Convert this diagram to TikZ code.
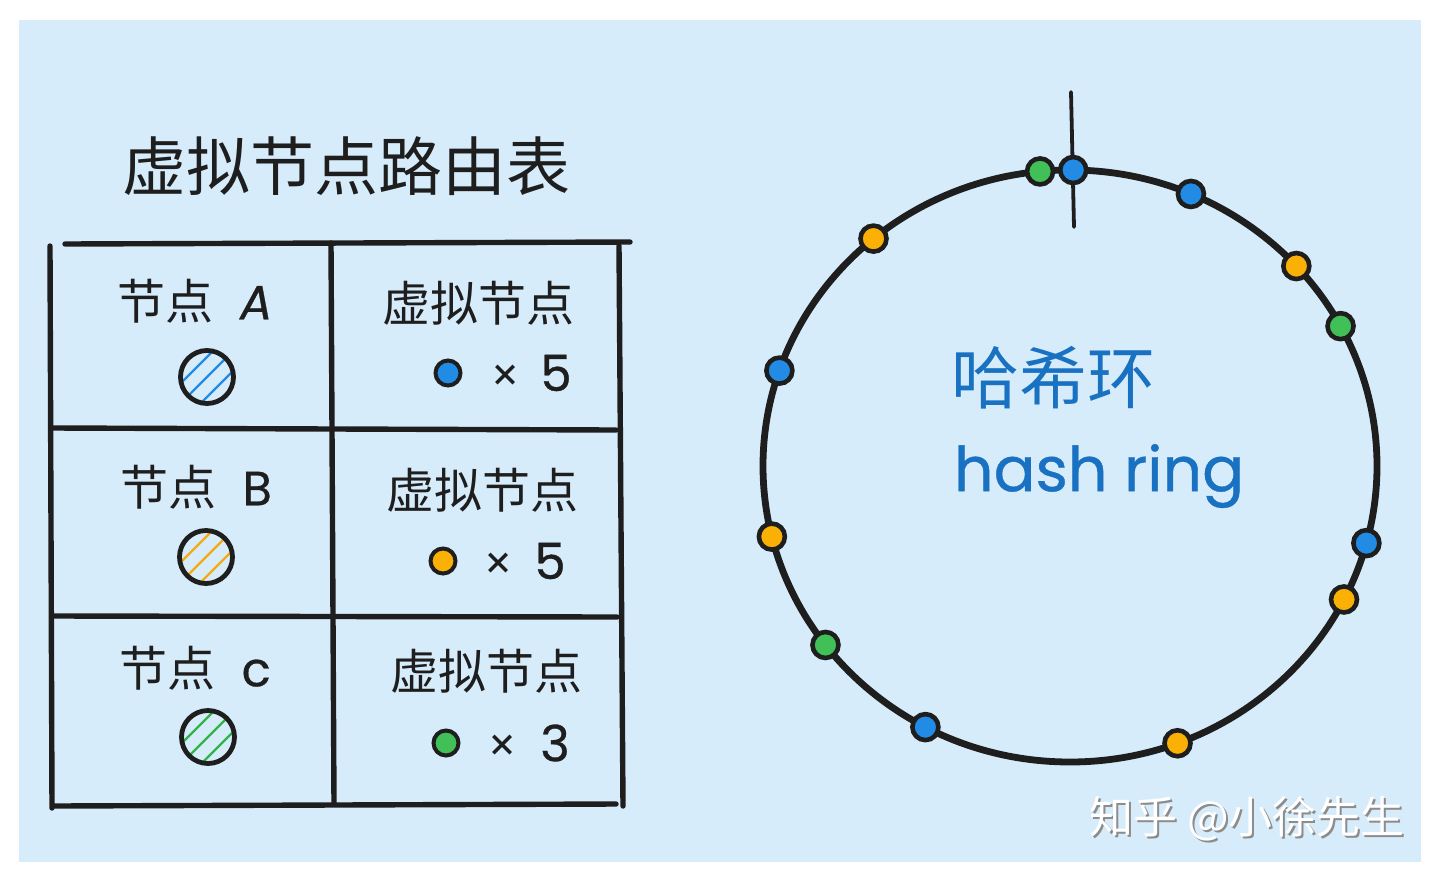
\documentclass[tikz,border=0pt]{standalone}
\usepackage{fontspec}
\setmainfont{Noto Sans CJK SC}
\newfontfamily\hand{Poppins}
\newfontfamily\handb[FakeBold=0.6]{Poppins}
\usetikzlibrary{calc}
\definecolor{bgblue}{RGB}{215,236,251}
\definecolor{ink}{RGB}{30,30,30}
\definecolor{dotblue}{RGB}{34,139,230}
\definecolor{dotorange}{RGB}{250,176,5}
\definecolor{dotgreen}{RGB}{64,192,87}
\definecolor{hatchblue}{RGB}{34,139,230}
\definecolor{hatchorange}{RGB}{245,170,20}
\definecolor{hatchgreen}{RGB}{47,180,70}
\definecolor{textblue}{RGB}{25,113,194}
\begin{document}
\begin{tikzpicture}[x=0.5pt,y=-0.5pt,
  tline/.style={draw=ink, line width=2.7pt, line cap=round},
  vdot/.style={circle, draw=ink, line width=2pt, fill=#1, minimum size=12.5pt, inner sep=0pt},
  rdot/.style={circle, draw=ink, line width=2.3pt, fill=#1, minimum size=13pt, inner sep=0pt},
  hcirc/.style={circle, draw=ink, line width=2.4pt, minimum size=26.5pt, inner sep=0pt,
    path picture={\foreach \k in {-40,-20,0,20,40}{
      \draw[#1, line width=1.1pt] ($(path picture bounding box.center)+(\k-30,30)$) -- ++(60,-60);}}},
  celltxt/.style={text=ink, font=\fontsize{24}{28}\selectfont, inner sep=0pt},
  times/.style={text=ink, font=\bfseries\fontsize{15}{18}\selectfont, inner sep=0pt},
  digit/.style={text=ink, font=\handb\fontsize{25}{30}\selectfont, inner sep=0pt},
]
\useasboundingbox (0,0) rectangle (1440,879);
\fill[bgblue] (19,20) rectangle (1421,862);

% title
\node[text=ink, font=\fontsize{32}{38}\selectfont, inner sep=0pt] (title) at (346,166) {虚拟节点路由表};

% table grid
\coordinate (tl1) at (65,244);  \coordinate (tr1) at (630,242);
\coordinate (lv1) at (50,246);  \coordinate (lv2) at (52,808);
\coordinate (mv1) at (331,243); \coordinate (mv2) at (334,804);
\coordinate (rv1) at (619,246); \coordinate (rv2) at (623,806);
\coordinate (r1a) at (53,428);  \coordinate (r1b) at (616,430);
\coordinate (r2a) at (53,616);  \coordinate (r2b) at (617,617);
\coordinate (r3a) at (53,806);  \coordinate (r3b) at (616,804);
\draw[tline] (tl1) -- (tr1);
\draw[tline] (lv1) -- (lv2);
\draw[tline] (mv1) -- (mv2);
\draw[tline] (rv1) -- (rv2);
\draw[tline] (r1a) -- (r1b);
\draw[tline] (r2a) -- (r2b);
\draw[tline] (r3a) -- (r3b);

% row 1
\node[celltxt] (na) at (195,301) {节点\hspace{0.55em}{\handb\itshape A}};
\node[hcirc=hatchblue] (ca) at (207,377) {};
\node[celltxt] (va) at (478,303) {虚拟节点};
\node[vdot=dotblue] (da) at (448,373) {};
\node[times] (xa) at (505,376) {×};
\node[digit] (ka) at (556,373) {5};

% row 2
\node[celltxt] (nb) at (196,487) {节点\hspace{0.55em}{\handb B}};
\node[hcirc=hatchorange] (cb) at (206,557) {};
\node[celltxt] (vb) at (482,490) {虚拟节点};
\node[vdot=dotorange] (db) at (443,561) {};
\node[times] (xb) at (498,564) {×};
\node[digit] (kb) at (550,561) {5};

% row 3
\node[celltxt] (nc) at (195,668) {节点\hspace{0.55em}{\handb c}};
\node[hcirc=hatchgreen] (cc) at (208,737) {};
\node[celltxt] (vc) at (486,671) {虚拟节点};
\node[vdot=dotgreen] (dc) at (446,743) {};
\node[times] (xc) at (502,746) {×};
\node[digit] (kc) at (555,743) {3};

% hash ring
\coordinate (ctr) at (1070,466);
\draw[draw=ink, line width=3.4pt] (ctr) ellipse [x radius=307, y radius=296];
\coordinate (tt) at (1071,92);
\coordinate (tb) at (1074,227);
\draw[draw=ink, line width=1.9pt, line cap=round] (tt) -- (tb);

\node[rdot=dotgreen]  (g1) at ($(ctr)+(-95.6:307 and 296)$) {};
\node[rdot=dotblue]   (b1) at ($(ctr)+(-89.4:307 and 296)$) {};
\node[rdot=dotblue]   (b2) at ($(ctr)+(-66.8:307 and 296)$) {};
\node[rdot=dotorange] (o1) at ($(ctr)+(-42.5:307 and 296)$) {};
\node[rdot=dotgreen]  (g2) at ($(ctr)+(-28.2:307 and 296)$) {};
\node[rdot=dotblue]   (b3) at ($(ctr)+(15.1:307 and 296)$) {};
\node[rdot=dotorange] (o2) at ($(ctr)+(26.8:307 and 296)$) {};
\node[rdot=dotorange] (o3) at ($(ctr)+(69.5:307 and 296)$) {};
\node[rdot=dotblue]   (b4) at ($(ctr)+(118.1:307 and 296)$) {};
\node[rdot=dotgreen]  (g3) at ($(ctr)+(142.8:307 and 296)$) {};
\node[rdot=dotorange] (o4) at ($(ctr)+(166.2:307 and 296)$) {};
\node[rdot=dotblue]   (b5) at ($(ctr)+(198.8:307 and 296)$) {};
\node[rdot=dotorange] (o5) at ($(ctr)+(230.2:307 and 296)$) {};

\node[text=textblue, font=\fontsize{34}{40}\selectfont, inner sep=0pt] (hx) at (1053,378) {哈希环};
\node[text=textblue, font=\handb\fontsize{31}{36}\selectfont, inner sep=0pt] (hr) at (1099,476) {hash ring};

% watermark
\node[text=black!45, font=\fontsize{22}{26}\selectfont, inner sep=0pt] (wms) at (1249,821) {知乎 @小徐先生};
\node[text=white, font=\fontsize{22}{26}\selectfont, inner sep=0pt] (wm) at (1247,819) {知乎 @小徐先生};
\end{tikzpicture}
\end{document}
